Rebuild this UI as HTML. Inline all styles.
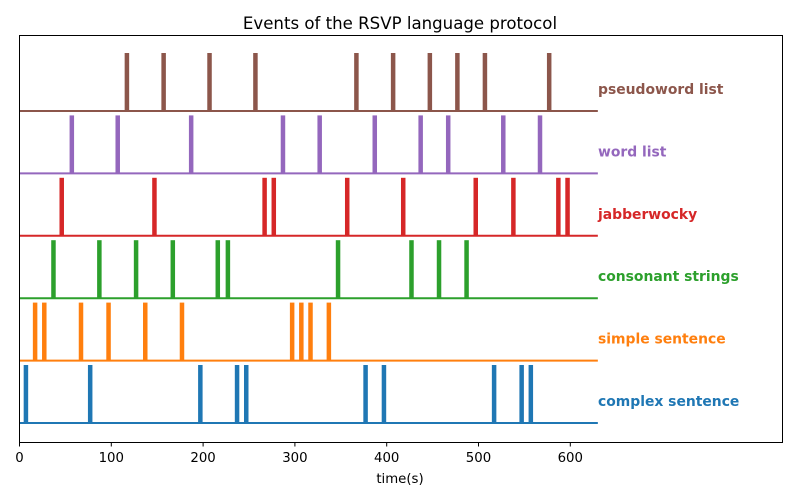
<!DOCTYPE html>
<html><head><meta charset="utf-8"><style>
body{margin:0;background:#fff;font-family:"DejaVu Sans","Liberation Sans",sans-serif}
</style></head><body>
<svg id="chart" width="800" height="500" font-family="DejaVu Sans, Liberation Sans, sans-serif">
<rect width="800" height="500" fill="#fff"/>
<text x="400" y="29" font-size="16.6" text-anchor="middle">Events of the RSVP language protocol</text>
<g id="plot"></g>
<rect x="19.5" y="35.5" width="763" height="407" fill="none" stroke="#000" stroke-width="1"/>
<g id="xaxis"></g>
<text x="400" y="483" font-size="13.3" text-anchor="middle">time(s)</text>
</svg>
<script>
const conditions = ["complex sentence","simple sentence","consonant strings","jabberwocky","word list","pseudoword list"];
const colors = ["#1f77b4","#ff7f0e","#2ca02c","#d62728","#9467bd","#8c564b"];
const onsetsComplex = [7,77,197,237,247,377,397,517,547,557];
const onsetsSimple = [17,27,67,97,137,177,297,307,317,337];
const onsetsConsonant = [37,87,127,167,216,227,347,427,457,487];
const onsetsJabber = [46,147,267,277,357,418,497,538,587,597];
const onsetsWord = [57,107,187,287,327,387,437,467,527,567];
const onsetsPseudo = [117,157,207,257,367,407,447,477,507,577];
const xTicks = [0,100,200,300,400,500,600];
const tMax = 630;
const series = [onsetsComplex,onsetsSimple,onsetsConsonant,onsetsJabber,onsetsWord,onsetsPseudo];
const NS="http://www.w3.org/2000/svg";
const x = t => 19.5 + t*0.918;
const yBase = i => 423 - i*62.4;
const plot=document.getElementById('plot');
function mk(tag,attrs,parent){const e=document.createElementNS(NS,tag);for(const k in attrs)e.setAttribute(k,attrs[k]);parent.appendChild(e);return e;}
series.forEach((ons,i)=>{
  const c=colors[i], yb=yBase(i);
  const g=mk('g',{},plot);
  
  
  const base=mk('line',{x1:x(0),x2:x(tMax),y1:yb,y2:yb,stroke:c,'stroke-width':2},g);
  
  
  ons.forEach(t=>{
    const r=mk('rect',{x:x(t)-2.25,y:yb-58,width:4.5,height:58,fill:c},g);
    
    
  });
  const lbl=mk('text',{x:598,y:yb-17,'font-size':13.9,'font-weight':'bold',fill:c},g);
  lbl.textContent=conditions[i];
  
  
});
const xa=document.getElementById('xaxis');
xTicks.forEach(v=>{
  const tk=mk('line',{x1:x(v),x2:x(v),y1:442.5,y2:446.5,stroke:'#000'},xa);
  
  
  const tl=mk('text',{x:x(v),y:462,'font-size':13.3,'text-anchor':'middle'},xa);
  tl.textContent=v;
  
  
});
</script>
</body></html>
